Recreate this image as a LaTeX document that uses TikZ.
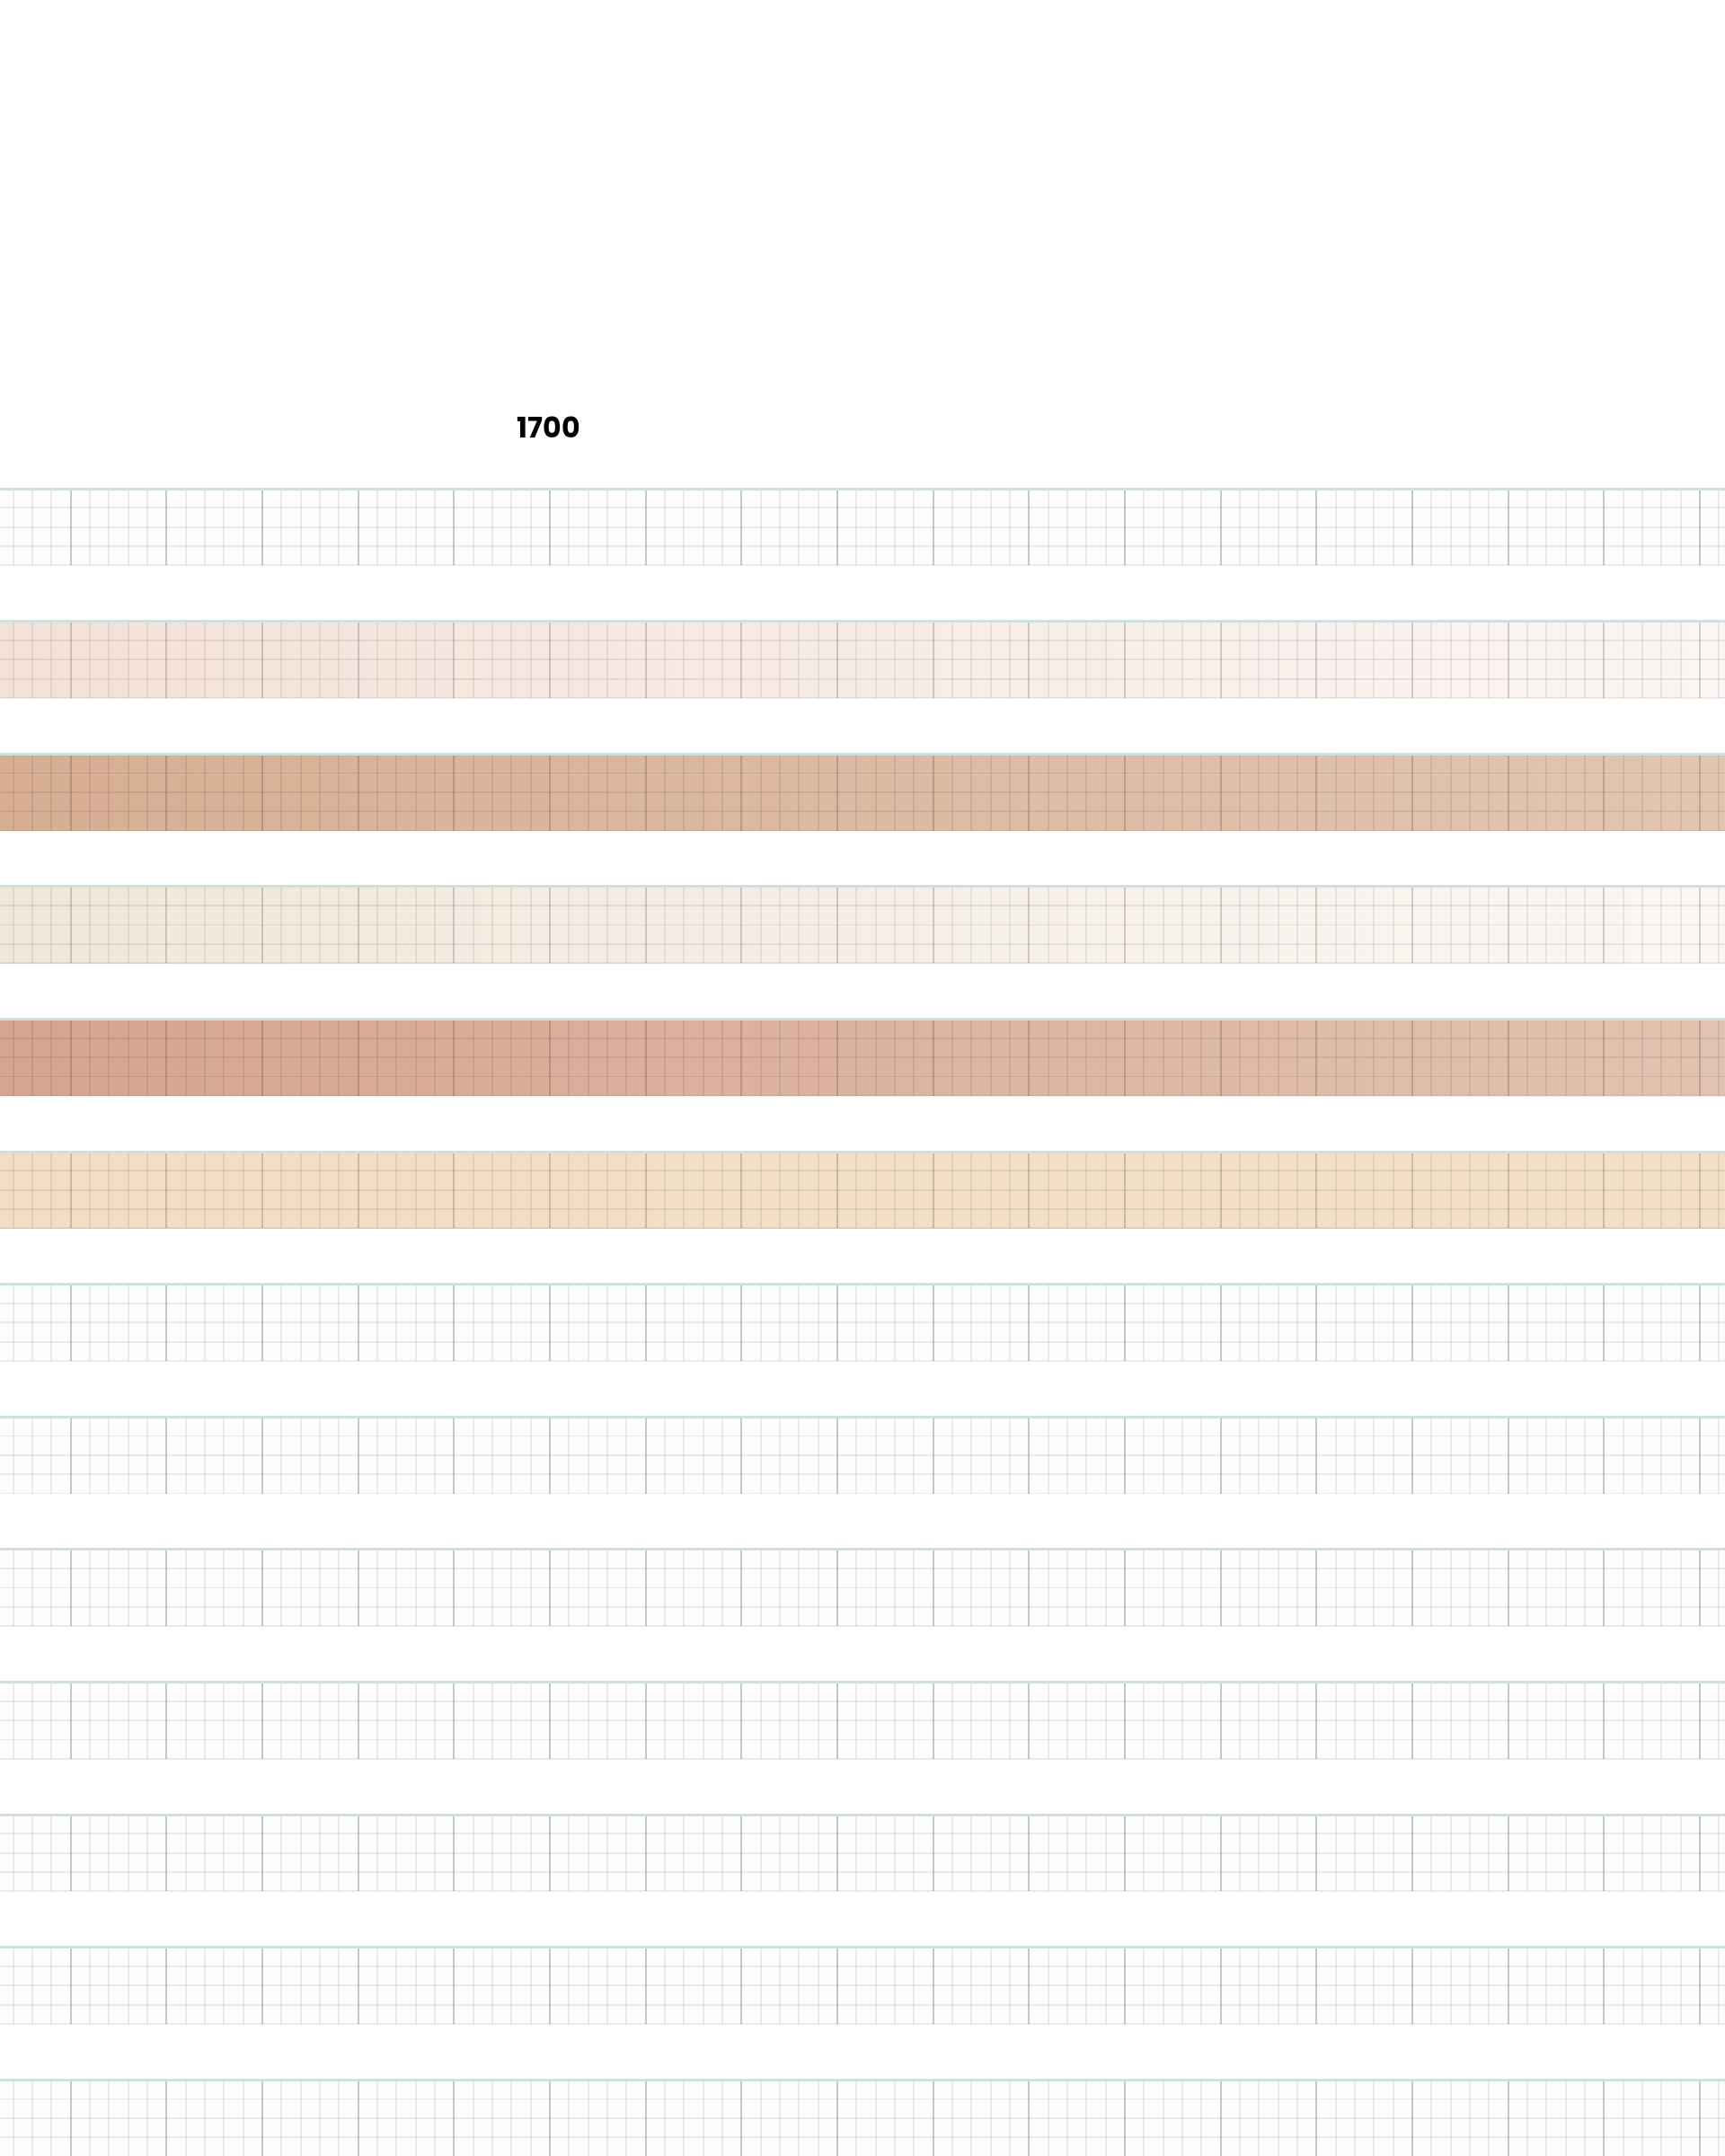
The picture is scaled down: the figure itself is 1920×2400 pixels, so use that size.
\documentclass[tikz,border=0pt]{standalone}
\usepackage{fontspec}
\setmainfont{Poppins}
\usepackage{xcolor}
\usepackage{tikz}
\usetikzlibrary{calc}

\definecolor{paper}{HTML}{FDFDFD}
\definecolor{roseL}{HTML}{F4E1D8}
\definecolor{roseR}{HTML}{FBF6F3}
\definecolor{tanL}{HTML}{D7AE93}
\definecolor{tanR}{HTML}{E2C5B1}
\definecolor{creamL}{HTML}{F1E6DA}
\definecolor{creamR}{HTML}{FAF7F3}
\definecolor{clayL}{HTML}{D6A48F}
\definecolor{clayR}{HTML}{E2C2B0}
\definecolor{sandL}{HTML}{F3DDC4}
\definecolor{sandR}{HTML}{F3DFC8}
\definecolor{tealrule}{HTML}{CFE0E0}
\definecolor{tealgrid}{RGB}{80,120,120}

\begin{document}
\begin{tikzpicture}[x=0.25mm, y={(0mm,-0.25mm)},
  minor/.style={black, opacity=0.07, line width=0.45mm},
  majorpaper/.style={tealgrid, opacity=0.28, line width=0.5mm},
  majortint/.style={black!70!brown, opacity=0.12, line width=0.5mm},
  edge/.style={tealrule, line width=0.75mm}]
  % page frame (1 unit = 1 px)
  \useasboundingbox (0,0) rectangle (1920,2400);

  % year label
  \node[font=\bfseries\fontsize{22.5}{26}\selectfont] (year) at (611,476) {1700};

  % one band per row: shade, then minor grid, major grid, top rule
  \foreach \n/\lc/\rc/\mj in {0/paper/paper/majorpaper, 1/roseL/roseR/majortint,
      2/tanL/tanR/majortint, 3/creamL/creamR/majortint, 4/clayL/clayR/majortint,
      5/sandL/sandR/majortint, 6/paper/paper/majorpaper, 7/paper/paper/majorpaper,
      8/paper/paper/majorpaper, 9/paper/paper/majorpaper, 10/paper/paper/majorpaper,
      11/paper/paper/majorpaper, 12/paper/paper/majorpaper} {
    \pgfmathsetmacro{\bandy}{544+147.6*\n}
    \shade[left color=\lc, right color=\rc] (0,\bandy) rectangle (1920,\bandy+85.33);
    % small squares
    \foreach \i in {-4,...,87} {
      \draw[minor] ({78.67+21.333*\i},\bandy) -- ++(0,85.33);
    }
    \foreach \r in {1,2,3,4} {
      \draw[minor] (0,\bandy+21.333*\r) -- (1920,\bandy+21.333*\r);
    }
    % large squares
    \foreach \k in {-1,...,17} {
      \draw[\mj] ({78.67+106.67*\k},\bandy) -- ++(0,85.33);
    }
    \draw[edge] (0,\bandy) -- (1920,\bandy);
  }
\end{tikzpicture}
\end{document}
